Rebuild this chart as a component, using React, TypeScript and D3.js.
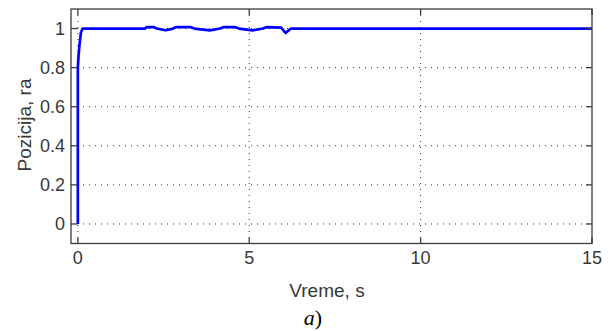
import React from "react";
import * as d3 from "d3";

const timeS = [0, 0, 0.02, 0.05, 0.09, 0.14, 1.96, 2.0, 2.22, 2.3, 2.56, 2.75, 2.85, 3.3, 3.4, 3.85, 4.15, 4.25, 4.6, 4.7, 5.1, 5.4, 5.5, 5.93, 6.06, 6.22, 15];
const position = [0, 0.8, 0.86, 0.92, 0.98, 1.0, 1.0, 1.007, 1.007, 1.0, 0.991, 0.998, 1.007, 1.007, 1.0, 0.991, 1.0, 1.007, 1.007, 1.0, 0.991, 1.0, 1.007, 1.005, 0.978, 1.0, 1.0];
const xTicks = [0, 5, 10, 15];
const yTicks = [0, 0.2, 0.4, 0.6, 0.8, 1];
const xGrid = [0, 5, 10];
const yGrid = [0, 0.2, 0.4, 0.6, 0.8, 1];
const xLabel = "Vreme, s";
const yLabel = "Pozicija, ra";
const caption = "a)";

const W = 614, H = 331;
const L = 71, R = 592, T = 9, B = 243.5;

export default function App() {
  const x = d3.scaleLinear().domain([-0.2, 15]).range([L, R]);
  const y = d3.scaleLinear().domain([-0.1, 1.1]).range([B, T]);
  const line = d3.line<number>().x((_, i) => x(timeS[i])).y((d) => y(d));
  const axisColor = "#3c3c3c";
  const textColor = "#383838";
  const font = "'Liberation Sans', Arial, sans-serif";
  return (
    <div style={{ position: "fixed", left: 0, top: 0 }}>
      <svg width={W} height={H} style={{ display: "block", background: "#fff" }}>
        <rect x={0} y={0} width={W} height={H} fill="#fff" />
        {xGrid.map((v) => (
          <line key={"gx" + v} x1={x(v)} x2={x(v)} y1={T} y2={B} stroke="#333" strokeWidth={1} strokeDasharray="1,5" />
        ))}
        {yGrid.map((v) => (
          <line key={"gy" + v} x1={L} x2={R} y1={y(v)} y2={y(v)} stroke="#333" strokeWidth={1} strokeDasharray="1,5" />
        ))}
        <path d={line(position) || ""} fill="none" stroke="#0000ff" strokeWidth={2.7} strokeLinejoin="round" />
        <rect x={L} y={T} width={R - L} height={B - T} fill="none" stroke={axisColor} strokeWidth={1.3} />
        {xTicks.map((v) => (
          <g key={"xt" + v}>
            <line x1={x(v)} x2={x(v)} y1={B} y2={B - 6} stroke={axisColor} strokeWidth={1.3} />
            <line x1={x(v)} x2={x(v)} y1={T} y2={T + 6} stroke={axisColor} strokeWidth={1.3} />
            <text x={x(v)} y={264} textAnchor="middle" fontFamily={font} fontSize={18} fill={textColor}>
              {v}
            </text>
          </g>
        ))}
        {yTicks.map((v) => (
          <g key={"yt" + v}>
            <line x1={L} x2={L + 6} y1={y(v)} y2={y(v)} stroke={axisColor} strokeWidth={1.3} />
            <line x1={R} x2={R - 6} y1={y(v)} y2={y(v)} stroke={axisColor} strokeWidth={1.3} />
            <text x={65} y={y(v) + 6.5} textAnchor="end" fontFamily={font} fontSize={18} fill={textColor}>
              {v}
            </text>
          </g>
        ))}
        <text x={327} y={297} textAnchor="middle" fontFamily={font} fontSize={19} fill={textColor}>
          {xLabel}
        </text>
        <text
          transform={`translate(31,125) rotate(-90)`}
          textAnchor="middle"
          fontFamily={font}
          fontSize={19}
          fill={textColor}
        >
          {yLabel}
        </text>
        <text x={313} y={325} textAnchor="middle" fontFamily="'Liberation Serif', 'Times New Roman', serif" fontSize={22} fill="#000">
          <tspan fontStyle="italic">{caption.slice(0, 1)}</tspan>
          <tspan>{caption.slice(1)}</tspan>
        </text>
      </svg>
    </div>
  );
}
